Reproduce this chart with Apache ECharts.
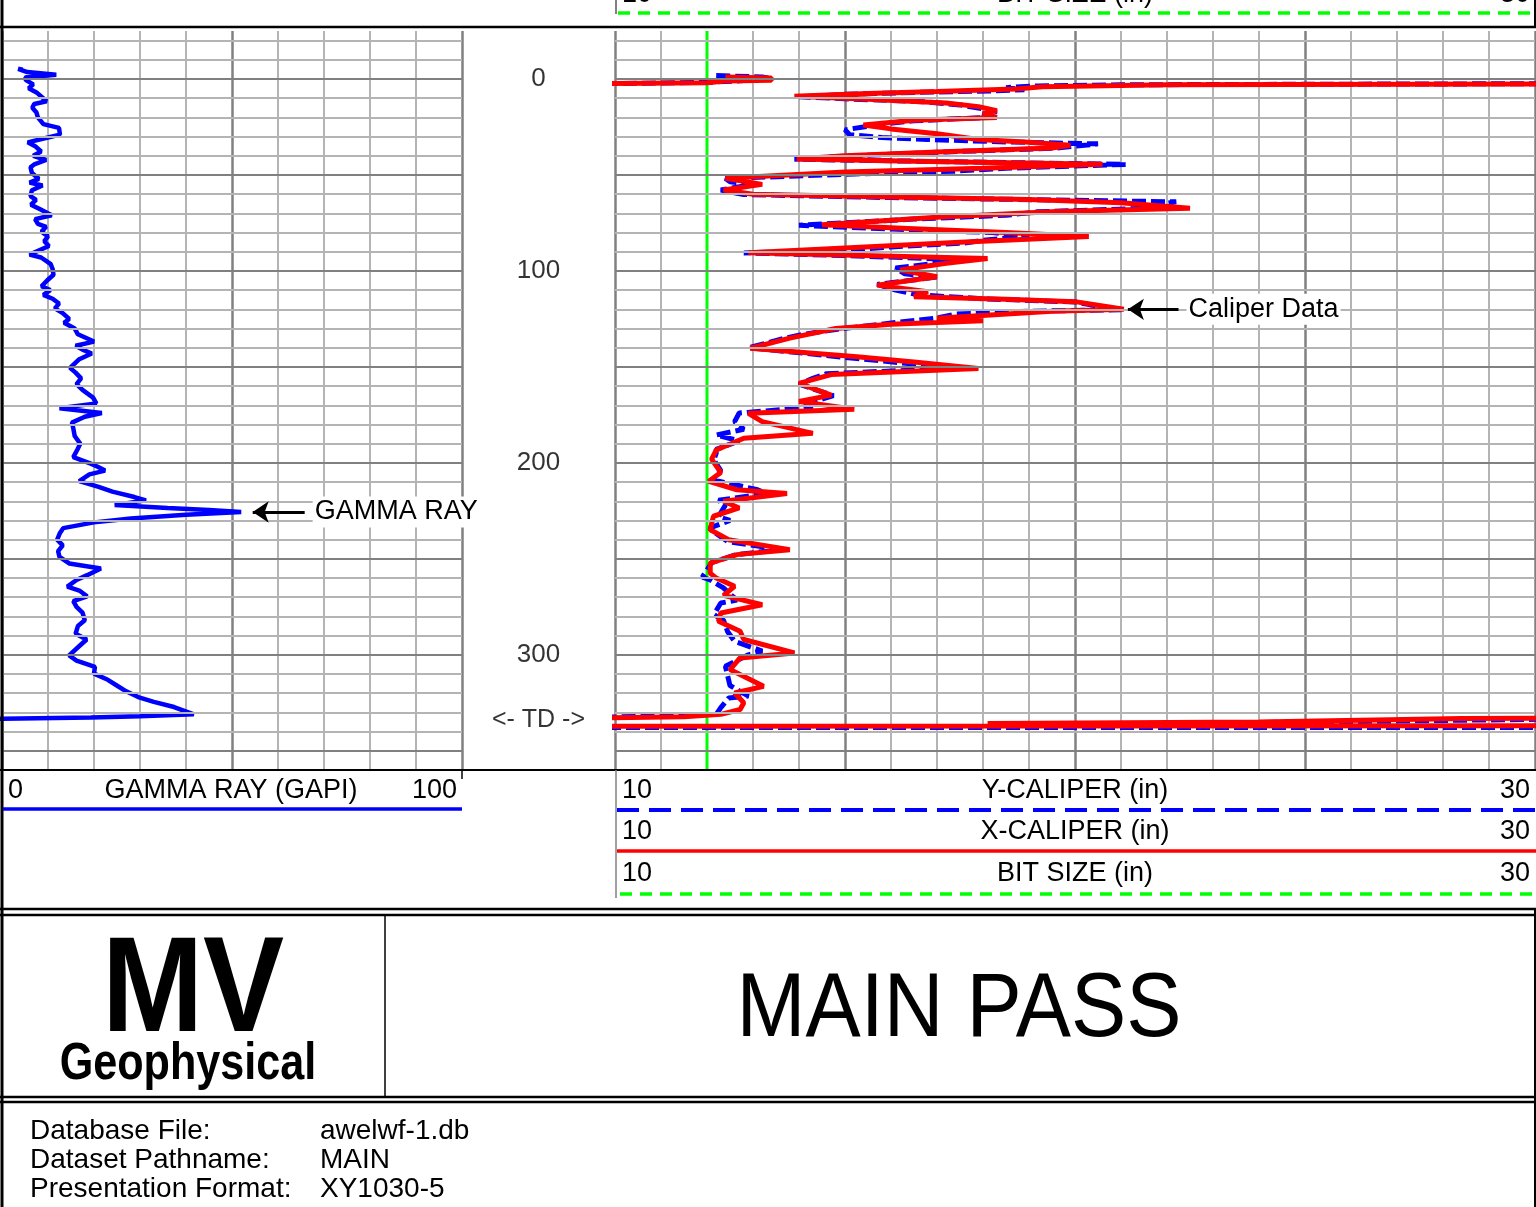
<!DOCTYPE html>
<html>
<head>
<meta charset="utf-8">
<title>MAIN PASS</title>
<script src="https://cdn.jsdelivr.net/npm/echarts@6/dist/echarts.min.js"></script>
<style>
html, body { margin: 0; padding: 0; background: #fff; }
#main { width: 1536px; height: 1207px; }
</style>
</head>
<body>
<div id="main"></div>
<script>
// depth axis (top to bottom)
var depthMin = -25, depthMax = 360;
var depthLabels = [0, 100, 200, 300];
var tdDepth = 334;

// GAMMA RAY (GAPI) vs depth
var gammaRay = [
    [4.5,-4.8],[3.5,-5.3],[5.5,-3.6],[11.8,-2.2],[5,-0.8],[5.2,0.6],[6.8,2.8],[5.8,4.8],[7.5,7],[9.7,11.6],
    [7,13],[6.6,15],[7.5,17.5],[7.8,20],[9,23.5],[12.4,25.5],[12.6,29],[10,30.5],[5.6,33],[7.2,35],
    [8.5,37.8],[6.8,40],[9.6,42.2],[7,44.5],[6.2,46],[6.5,49],[8,52],[6,54],[8.8,55.5],[6.5,58],
    [6.2,61],[7.4,63],[6.3,65.5],[8.4,68],[10.8,71],[7.2,73],[7.8,75.5],[9.6,77],[8.6,79.5],[10,82],
    [9.2,84.5],[10.2,87],[6,91.5],[8.5,93],[10.6,96.5],[11,99],[11.2,102],[9.8,105],[8.6,108],[10.5,110],
    [9,112.5],[11,114.5],[12.4,117],[11.5,119.5],[13.2,122],[14.6,125],[13.5,127],[15.8,130],[16.5,133],[20,136.8],
    [16,139],[17.5,141],[19.5,143],[16.8,146],[14.8,150.5],[16,153],[17.2,156],[16.2,159],[17.5,162],[19.8,166],
    [20.5,169],[12.5,171.5],[21.7,174],[18,176],[15.2,179],[15.5,182],[15.8,186],[17,190],[16.4,193],[15.5,197],
    [19.3,200.4],[20.8,202],[22.4,204],[19,206],[16.8,209.5],[21,212.5],[24,215],[28.8,217.8],[31.3,219.5],[24.5,222],
    [36,223.5],[45,224.6],[52,225.6],[40,227],[28,229],[20,231],[13.3,234],[12.6,236.5],[12,240],[13.2,243],
    [12.2,246],[12.5,249],[14.6,252.4],[21.5,255],[18.5,258.5],[16.2,261],[14.2,264.5],[16.8,266.5],[18.5,269.5],[15.5,272],
    [16.2,275],[17.5,278],[18,282],[16.5,285],[16,289],[18.4,292],[17,295],[14.6,300.3],[16.2,303],[20.2,306.3],
    [20,309.8],[23,313],[25.3,316.5],[27,319],[29.6,322],[33,324.5],[37.4,327.2],[41.7,331],[30,332],[19.3,332.6],
    [0,333.3],[-2,333.5]
];

// X-CALIPER (in) vs depth
var xCaliper = [
    [12.4,-1.0],[13.4,-0.5],[13.4,0.6],[12.4,1.0],[12.0,2.0],[9,2.5],null,
    [31,2.6],[22,3.0],[19.3,4.0],[18.7,5.2],[17,6.5],[15.5,7.6],[13.9,9.0],[15.5,10.5],[17.2,12.5],[17.9,14.4],
    [18.3,16.5],[18.0,18.0],[18.3,20.0],[16.5,21.5],[15.4,24.0],[16.0,26.0],[17.0,28.5],[17.9,31.5],[19.0,33.0],[19.9,34.5],
    [19.5,36.0],[17.0,38.0],[15.0,40.0],[13.95,41.7],[16.5,42.8],[20.6,44.4],[18.0,46.5],[15.0,48.5],[12.4,51.7],[13.2,54.9],
    [12.36,57.8],[13.0,60.0],[16.0,61.5],[19.0,62.8],[21.0,64.5],[22.5,67.4],[19.6,69.0],[17.0,72.0],[14.5,76.0],[16.5,78.0],
    [18.5,80.0],[20.3,82.0],[17.5,85.0],[15.0,88.0],[12.9,90.5],[18.1,93.5],[17.2,96.0],[16.2,99.5],[17.0,103.0],[15.7,107.4],
    [16.8,110.8],[16.5,113.4],[18.5,114.8],[20.0,116.0],[21.06,120.0],[19.5,121.0],[17.0,124.7],[18.0,126.0],[16.0,127.8],[14.8,130.0],
    [13.8,135.0],[12.94,140.3],[15.26,144.7],[16.5,147.5],[17.9,150.8],[14.7,154.0],[14.0,158.6],[14.7,164.7],[14.0,168.0],[15.2,172.0],
    [12.9,174.2],[13.2,178.5],[14.3,184.6],[12.8,187.2],[12.2,193.3],[12.1,198.0],[12.3,205.0],[12.04,209.6],[12.65,214.0],[13.74,216.0],
    [12.36,220.0],[12.7,223.5],[12.14,227.8],[12.07,234.8],[12.47,240.0],[13.8,245.2],[12.65,247.8],[12.07,252.2],[12.07,257.4],[12.2,260.0],
    [12.6,264.3],[12.36,269.0],[13.2,273.9],[12.3,278.2],[12.25,282.5],[12.72,287.7],[12.8,292.0],[13.9,299.0],[12.72,301.6],[12.5,307.7],
    [13.23,316.4],[12.6,319.9],[12.8,325.0],[12.72,328.5],[12.3,331.0],[11.5,332.3],[9,333.0],null,
    [9,337.2],[31,337.0],null,
    [31,333.0],[28.4,333.2],[24,335.0],[18.1,335.8]
];

// Y-CALIPER (in) vs depth
var yCaliper = [
    [12.2,-1.8],[12.6,-1.5],[13.2,-1.0],[13.4,-0.2],[12.8,0.8],[12.0,1.8],[9,2.6],null,
    [31,2.4],[21,3.0],[19.2,3.6],[18.5,4.5],[18.9,5.6],[18.2,6.2],[16.5,7.0],[15,8.0],[14.0,9.3],[15.2,10.5],
    [16.7,11.8],[17.5,13.5],[18.0,15.5],[18.3,17.0],[18.0,18.2],[18.1,20.0],[16.5,21.8],[15.8,23.5],[15.0,26.5],[15.1,29.0],
    [15.8,30.5],[16.8,31.5],[18.5,32.8],[20.5,33.8],[19.6,36.0],[17.2,38.0],[15.0,40.2],[13.9,41.8],[17.0,43.0],[21.1,44.5],
    [18.5,46.5],[17.4,48.0],[15.2,49.5],[12.4,51.8],[12.5,53.5],[13.0,55.0],[12.3,57.8],[12.8,60.2],[16.0,61.8],[19.5,63.0],
    [22.2,64.0],[21.8,65.5],[22.0,67.0],[19.2,69.2],[18.5,71.0],[16.5,73.0],[14.0,76.2],[16.0,78.2],[18.2,80.0],[19.0,82.0],
    [18.0,84.0],[17.6,85.5],[16.0,87.5],[15.1,89.0],[12.8,90.6],[15.0,92.0],[17.4,94.0],[17.0,96.0],[16.1,98.5],[16.3,101.5],
    [17.0,103.2],[15.7,107.0],[16.1,110.0],[16.6,112.5],[18.0,114.5],[20.0,116.2],[21.0,120.2],[19.0,121.0],[17.4,122.5],[17.0,124.5],
    [15.5,128.5],[14.8,130.5],[14.1,133.0],[13.7,135.0],[12.9,140.0],[15.2,145.5],[16.7,149.0],[17.2,151.0],[14.6,153.5],[14.3,156.0],
    [14.0,159.0],[14.75,165.0],[14.1,169.5],[14.3,171.0],[12.7,174.0],[12.6,178.5],[12.8,182.5],[12.2,185.5],[12.7,188.5],[12.2,193.0],
    [12.2,195.0],[12.15,198.5],[12.3,204.0],[12.15,209.0],[13.1,214.0],[13.3,216.0],[12.25,219.5],[12.4,222.0],[12.25,228.0],[12.5,230.0],
    [12.05,234.0],[12.15,236.0],[12.45,241.0],[13.6,245.0],[12.6,248.0],[12.1,252.0],[11.9,259.5],[12.07,261.0],[12.35,265.0],[12.65,271.5],
    [12.3,273.0],[12.15,279.0],[12.36,282.0],[12.45,288.0],[12.6,293.0],[13.2,298.0],[12.9,300.0],[12.4,306.0],[12.5,316.0],[12.9,321.5],
    [12.47,322.5],[12.3,327.5],[12.2,331.0],[9,333.0],null,
    [9,337.8],[31,337.8],null,
    [31,333.3],[26,334.8],[21,336.0]
];

// BIT SIZE (in) vs depth
var bitSize = [[12, -25], [12, 360]];

// arrows pointing at the curves
var gammaArrow = { from: [54.5, 225.6], to: [65.8, 225.6], text: 'GAMMA RAY' };
var caliperArrow = { from: [21.15, 120], to: [22.25, 120], text: 'Caliper Data' };

var FONT = '"Liberation Sans", Arial, sans-serif';

function depthGridLines() {
    var lines = [];
    for (var d = -20; d <= depthMax; d += 10) {
        var major = d % 50 === 0;
        lines.push({ yAxis: d, lineStyle: { color: major ? '#808080' : '#b4b4b4', width: 2, type: 'solid' } });
    }
    return lines;
}

function arrowLine(a) {
    return {
        silent: true,
        animation: false,
        symbol: ['arrow', 'none'],
        symbolSize: 16,
        lineStyle: { color: '#000', width: 3, type: 'solid' },
        itemStyle: { color: '#000' },
        label: {
            show: true, position: 'end', distance: 8, formatter: a.text,
            color: '#000', fontSize: 27, fontFamily: FONT, backgroundColor: '#fff', padding: [2, 2]
        },
        data: [[{ coord: a.from }, { coord: a.to }]]
    };
}

function valueAxis(grid, min, max, interval) {
    return {
        gridIndex: grid, type: 'value', min: min, max: max, interval: interval,
        axisLine: { show: false }, axisTick: { show: false }, axisLabel: { show: false },
        splitLine: { show: true, lineStyle: { color: '#808080', width: 2.5 } },
        minorTick: { show: false, splitNumber: 5 },
        minorSplitLine: { show: true, lineStyle: { color: '#b4b4b4', width: 2 } }
    };
}

function depthAxis(grid) {
    return { gridIndex: grid, type: 'value', inverse: true, min: depthMin, max: depthMax, show: false };
}

function txt(x, y, s, size, align, extra) {
    var el = {
        type: 'text', x: x, y: y, silent: true, z: 100,
        style: { text: s, font: size + 'px ' + FONT, fill: '#000', textAlign: align || 'left', textVerticalAlign: 'middle' }
    };
    if (extra) { for (var k in extra) el[k] = extra[k]; }
    return el;
}

function seg(x1, y1, x2, y2, color, w, dash) {
    return {
        type: 'line', silent: true, z: 100,
        shape: { x1: x1, y1: y1, x2: x2, y2: y2 },
        style: { stroke: color, lineWidth: w, lineDash: dash || null }
    };
}

function legendRow(y, name) {
    return [txt(622, y, '10', 27), txt(1075, y, name, 27, 'center'), txt(1530, y, '30', 27, 'right')];
}

var graphics = [
    // top header (bit size scale, cut off)
    txt(622, -5, '10', 27), txt(1075, -5, 'BIT SIZE (in)', 27, 'center'), txt(1530, -5, '30', 27, 'right'),
    seg(618, 13, 1533, 13, '#00ff00', 3.5, [12, 8]),
    seg(616, 0, 616, 14, '#000', 1),
    seg(1535, 0, 1535, 28, '#000', 2),
    seg(0, 27, 1536, 27, '#000', 2.5),
    seg(2, 0, 2, 1207, '#000', 3),
    // scales under the tracks
    seg(0, 770, 1536, 770, '#000', 2),
    seg(462, 770, 462, 779, '#000', 1.5),
    seg(616, 770, 616, 898, '#808080', 1.5),
    txt(8, 791, '0', 27), txt(231, 791, 'GAMMA RAY (GAPI)', 27, 'center'), txt(457, 791, '100', 27, 'right'),
    seg(3, 809, 462, 809, '#0000ff', 3.5)
].concat(legendRow(791, 'Y-CALIPER (in)'), [seg(617, 810, 1536, 810, '#0000ff', 4, [22, 10])],
    legendRow(832, 'X-CALIPER (in)'), [seg(617, 851, 1536, 851, '#ff0000', 3.5)],
    legendRow(874, 'BIT SIZE (in)'), [seg(620, 894, 1536, 894, '#00ff00', 3.5, [12, 8])], [
    seg(0, 909, 1536, 909, '#000', 2.5),
    // title block
    seg(0, 915, 1536, 915, '#000', 2.5),
    seg(0, 1097, 1536, 1097, '#000', 2.5),
    seg(1535, 909, 1535, 1207, '#000', 2),
    seg(385, 915, 385, 1097, '#000', 1.5),
    txt(193, 994, 'MV', 133, 'center', { scaleX: 0.9, style: { text: 'MV', font: 'bold 135px ' + FONT, fill: '#000', textAlign: 'center', textVerticalAlign: 'middle' } }),
    txt(188, 1065, 'Geophysical', 52, 'center', { scaleX: 0.83, style: { text: 'Geophysical', font: 'bold 52px ' + FONT, fill: '#000', textAlign: 'center', textVerticalAlign: 'middle' } }),
    txt(959, 1011, 'MAIN PASS', 90, 'center', { scaleX: 0.92 }),
    // footer
    seg(0, 1102, 1536, 1102, '#000', 2.5),
    txt(30, 1131, 'Database File:', 28), txt(320, 1131, 'awelwf-1.db', 28),
    txt(30, 1160, 'Dataset Pathname:', 28), txt(320, 1160, 'MAIN', 28),
    txt(30, 1189, 'Presentation Format:', 28), txt(320, 1189, 'XY1030-5', 28)
]);

var depthMarks = depthLabels.map(function (d) { return { value: [0, d], label: { formatter: String(d), fontSize: 26 } }; });
depthMarks.push({ value: [0, tdDepth], label: { formatter: '<- TD ->', fontSize: 25 } });

var chart = echarts.init(document.getElementById('main'));
chart.setOption({
    animation: false,
    backgroundColor: '#fff',
    grid: [
        { left: 2, top: 31, width: 460, height: 739 },
        { left: 615, top: 31, width: 920, height: 739 },
        { left: 462, top: 31, width: 153, height: 739 }
    ],
    xAxis: [
        valueAxis(0, 0, 100, 50),
        valueAxis(1, 10, 30, 5),
        { gridIndex: 2, type: 'value', min: -1, max: 1, show: false }
    ],
    yAxis: [depthAxis(0), depthAxis(1), depthAxis(2)],
    graphic: graphics,
    series: [
        {
            name: 'grid-gamma', type: 'line', xAxisIndex: 0, yAxisIndex: 0, data: [], z: 1, silent: true,
            markLine: { silent: true, symbol: 'none', label: { show: false }, data: depthGridLines() }
        },
        {
            name: 'grid-caliper', type: 'line', xAxisIndex: 1, yAxisIndex: 1, data: [], z: 1, silent: true,
            markLine: { silent: true, symbol: 'none', label: { show: false }, data: depthGridLines() }
        },
        {
            name: 'GAMMA RAY (GAPI)', type: 'line', xAxisIndex: 0, yAxisIndex: 0, data: gammaRay, z: 3,
            showSymbol: false, clip: true, lineStyle: { color: '#0000ff', width: 4.5 },
            markLine: arrowLine(gammaArrow)
        },
        {
            name: 'BIT SIZE (in)', type: 'line', xAxisIndex: 1, yAxisIndex: 1, data: bitSize, z: 2,
            showSymbol: false, clip: true, lineStyle: { color: '#00ff00', width: 3 }
        },
        {
            name: 'Y-CALIPER (in)', type: 'line', xAxisIndex: 1, yAxisIndex: 1, data: yCaliper, z: 3,
            showSymbol: false, clip: true, connectNulls: false,
            lineStyle: { color: '#0000ff', width: 5, type: [14, 5] }
        },
        {
            name: 'X-CALIPER (in)', type: 'line', xAxisIndex: 1, yAxisIndex: 1, data: xCaliper, z: 4,
            showSymbol: false, clip: true, connectNulls: false,
            lineStyle: { color: '#ff0000', width: 5 },
            markLine: arrowLine(caliperArrow)
        },
        {
            name: 'depth', type: 'scatter', xAxisIndex: 2, yAxisIndex: 2, data: depthMarks, silent: true,
            symbolSize: 1, itemStyle: { color: 'rgba(0,0,0,0)' },
            label: { show: true, position: 'inside', color: '#000', fontFamily: FONT }
        }
    ]
});
</script>
</body>
</html>
